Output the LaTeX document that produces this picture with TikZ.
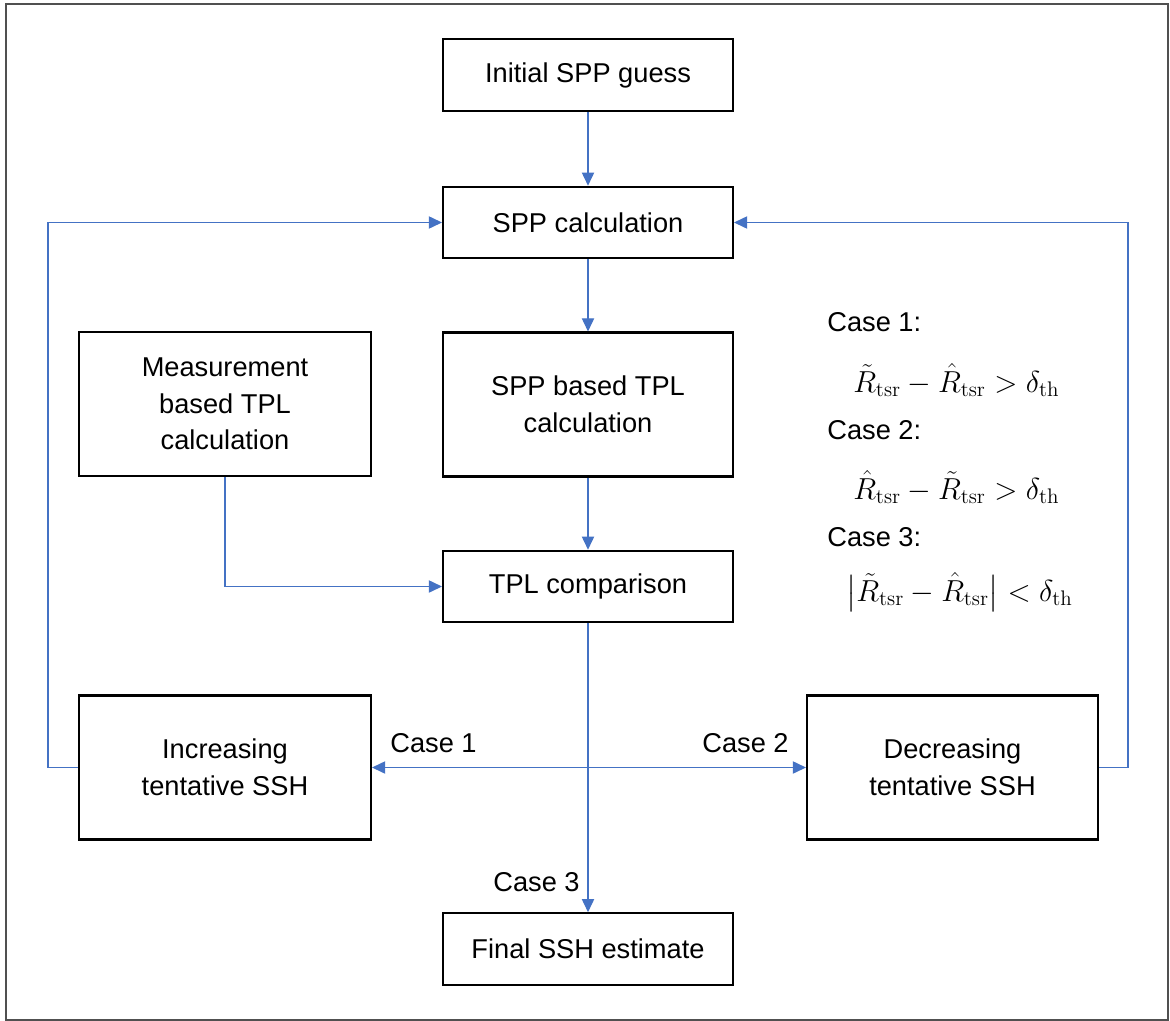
\documentclass[tikz,border=0pt]{standalone}
\usepackage{amsmath}
\usepackage[no-math]{fontspec}
\setmainfont{Liberation Sans}
\usepackage{tikz}
\usetikzlibrary{arrows.meta,calc}
\definecolor{flowblue}{RGB}{68,114,196}
\definecolor{framegray}{RGB}{80,80,80}
\newcommand{\diagfont}{\fontsize{15.5}{20.8}\selectfont}
\newcommand{\eqfont}{\fontsize{17.5}{21}\selectfont}

\begin{document}
\begin{tikzpicture}[x=0.02cm, y=-0.02cm,
    procbox/.style={draw, line width=1.2pt, minimum width=5.8cm, minimum height=1.43cm, align=center, font=\diagfont},
    tallbox/.style={procbox, minimum width=5.84cm, minimum height=2.88cm},
    flow/.style={flowblue, line width=0.7pt, -{Triangle[length=7.5pt,width=7pt]}},
    lbl/.style={inner sep=0pt, font=\diagfont},
    eqlbl/.style={inner sep=0pt, font=\eqfont, anchor=west}]
    \useasboundingbox (0,0) rectangle (1170,1021);
    \draw[framegray, line width=1pt] (6,4) rectangle (1168,1020);
    % main column
    \node[procbox] (init) at (588,75) {Initial SPP guess};
    \node[procbox] (sppcalc) at (588,222.5) {SPP calculation};
    \node[tallbox, minimum width=5.8cm] (spptpl) at (588,404.5) {SPP based TPL\\calculation};
    \node[tallbox] (meas) at (225,404) {Measurement\\based TPL\\calculation};
    \node[procbox] (tplcmp) at (588,586.5) {TPL comparison};
    \node[tallbox] (incr) at (225,767.5) {Increasing\\tentative SSH};
    \node[tallbox, minimum width=5.82cm] (decr) at (952.5,767.5) {Decreasing\\tentative SSH};
    \node[procbox] (final) at (588,949) {Final SSH estimate};
    % arrows
    \draw[flow] (init) -- (sppcalc);
    \draw[flow] (sppcalc) -- (spptpl);
    \draw[flow] (spptpl) -- (tplcmp);
    \draw[flow] (meas.south) |- (tplcmp.west);
    \draw[flow] (tplcmp) -- (final);
    \coordinate (split) at (tplcmp.south |- incr.east);
    \draw[flow] (split) -- (incr.east);
    \draw[flow] (split) -- (decr.west);
    \draw[flow] (incr.west) -- ++(-30,0) |- (sppcalc.west);
    \draw[flow] (decr.east) -- ++(29,0) |- (sppcalc.east);
    % case labels
    \node[lbl, anchor=west] (c1) at (390,743) {Case 1};
    \node[lbl, anchor=east] (c2) at (789,743) {Case 2};
    \node[lbl, anchor=east] (c3) at (580,882) {Case 3};
    % conditions
    \node[lbl, anchor=west] (cond1) at (827,322) {Case 1:};
    \node[eqlbl] (eq1) at (853,380) {$\tilde{R}_{\mathrm{tsr}}-\hat{R}_{\mathrm{tsr}}>\delta_{\mathrm{th}}$};
    \node[lbl, anchor=west] (cond2) at (827,430) {Case 2:};
    \node[eqlbl] (eq2) at (853,487) {$\hat{R}_{\mathrm{tsr}}-\tilde{R}_{\mathrm{tsr}}>\delta_{\mathrm{th}}$};
    \node[lbl, anchor=west] (cond3) at (827,537) {Case 3:};
    \node[eqlbl] (eq3) at (846,592) {$\big|\tilde{R}_{\mathrm{tsr}}-\hat{R}_{\mathrm{tsr}}\big|<\delta_{\mathrm{th}}$};
\end{tikzpicture}
\end{document}
